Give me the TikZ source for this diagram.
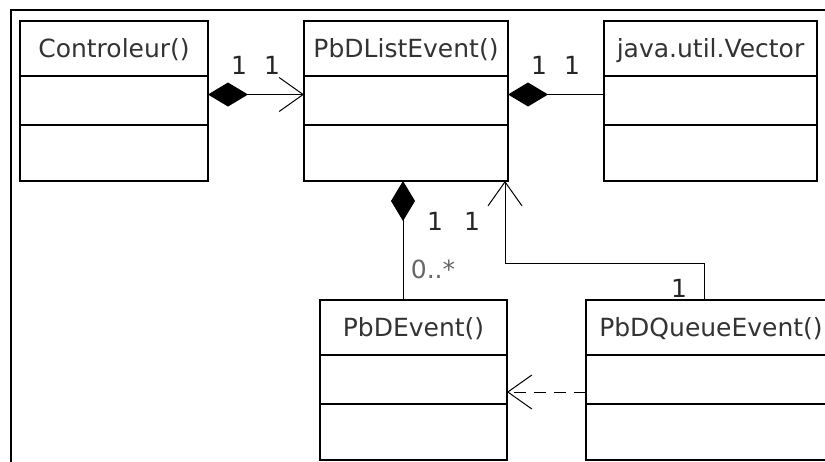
\documentclass[tikz,border=0pt]{standalone}
\usepackage{fontspec}
\setmainfont{DejaVu Sans}
\usetikzlibrary{arrows.meta}

\begin{document}
\begin{tikzpicture}[
		x=1pt, y=-1pt,
		umlclass/.style={
			draw, line width=1.6pt, anchor=north west, outer sep=0pt,
			inner xsep=0pt, inner ysep=0pt, minimum width=#1,
			text height=36.5pt, text depth=123.5pt,
			font=\fontsize{25}{30}\selectfont, text=headcol,
			path picture={
				\draw[line width=1.6pt]
				([yshift=-55pt]path picture bounding box.north west) --
				([yshift=-55pt]path picture bounding box.north east)
				([yshift=-104pt]path picture bounding box.north west) --
				([yshift=-104pt]path picture bounding box.north east);
			}
		},
		mult/.style={
			inner sep=0pt, font=\fontsize{25}{30}\selectfont, text=#1
		},
		mult/.default=black!85,
		assoc/.style={line width=1pt},
		depend/.style={assoc, dash pattern=on 12pt off 8pt},
		diam/.tip={Diamond[length=40pt, width=24pt]},
		>={Straight Barb[length=24pt, width=34pt]}
		]
		
		\definecolor{headcol}{HTML}{333333}
		
		\useasboundingbox (0,0) rectangle (825,461);
		\clip (0,0) rectangle (825,461);
		
		% frame
		\draw[line width=2.4pt] (11,480) -- (11,10) -- (840,10);
		
		% classes
		\node[umlclass=188pt] (ctrl)  at (20,  21)  {Controleur()};
		\node[umlclass=204pt] (list)  at (304, 21)  {PbDListEvent()};
		\node[umlclass=213pt] (vec)   at (604, 21)  {java.util.Vector};
		\node[umlclass=187pt] (evt)   at (320, 300) {PbDEvent()};
		\node[umlclass=250pt] (queue) at (586, 300) {PbDQueueEvent()};
		
		% links
		\draw[assoc, diam->] ([yshift=6.5pt]ctrl.east) -- ([yshift=6.5pt]list.west);
		\draw[assoc, diam-]  ([yshift=6.5pt]list.east) -- ([yshift=6.5pt]list.east -| vec.west);
		\draw[assoc, diam-]  ([xshift=-3pt]list.south) -- ([xshift=-3pt]list.south |- evt.north);
		\draw[assoc, ->]     ([xshift=-7pt]queue.north) -- ++(0,-37) -| ([xshift=-3pt]list.south east);
		\draw[depend, ->]    ([yshift=-12pt]queue.west) -- ([yshift=-12pt]evt.east);
		
		% multiplicities
		\node[mult] (m-ctrl)   at (239, 65)  {1};
		\node[mult] (m-list1)  at (272, 65)  {1};
		\node[mult] (m-list2)  at (539, 65)  {1};
		\node[mult] (m-vec)    at (572, 65)  {1};
		\node[mult] (m-list3)  at (435, 221) {1};
		\node[mult] (m-list4)  at (472, 221) {1};
		\node[mult=black!60] (m-evt) at (433, 269) {0..*};
		\node[mult] (m-queue)  at (679, 288) {1};
		
	\end{tikzpicture}
\end{document}
